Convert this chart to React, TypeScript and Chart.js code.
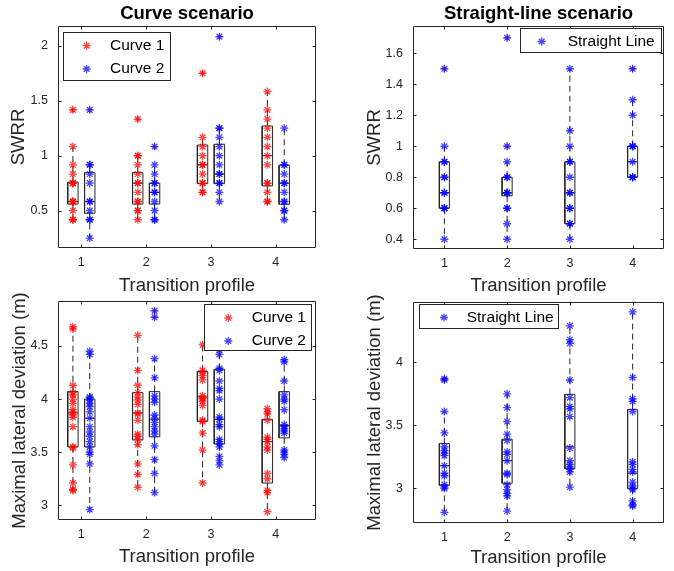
import React, { useEffect, useRef } from 'react';
import { Chart, registerables } from 'chart.js';

Chart.register(...registerables);

// ---------------- DATA ----------------
const CATEGORIES = [1, 2, 3, 4];
const X_LABEL = 'Transition profile';

const SWRR_TICKS = [0.5, 1, 1.5, 2];
const SWRR_STRAIGHT_TICKS = [0.4, 0.6, 0.8, 1, 1.2, 1.4, 1.6];
const DEV_TICKS = [3, 3.5, 4, 4.5];
const DEV_STRAIGHT_TICKS = [3, 3.5, 4];

// SWRR – curve scenario (values per transition profile)
const SWRR_CURVE1 = [
  [1.417, 1.083, 0.917, 0.833, 0.75, 0.75, 0.75, 0.583, 0.583, 0.583, 0.5, 0.417, 0.417],
  [1.333, 1.0, 1.0, 0.917, 0.833, 0.75, 0.75, 0.667, 0.583, 0.583, 0.5, 0.5, 0.417],
  [1.75, 1.167, 1.083, 1.0, 0.917, 0.917, 0.833, 0.75, 0.75, 0.667, 0.667],
  [1.583, 1.417, 1.333, 1.25, 1.167, 1.083, 1.0, 0.917, 0.75, 0.75, 0.667, 0.583, 0.583],
];
const SWRR_CURVE2 = [
  [1.417, 0.917, 0.917, 0.833, 0.75, 0.583, 0.583, 0.5, 0.417, 0.417, 0.25],
  [1.083, 0.917, 0.833, 0.75, 0.75, 0.667, 0.667, 0.583, 0.5, 0.417, 0.417],
  [2.083, 1.25, 1.25, 1.167, 1.083, 1.0, 0.917, 0.833, 0.833, 0.75, 0.75, 0.667, 0.583],
  [1.25, 0.917, 0.917, 0.833, 0.75, 0.75, 0.667, 0.583, 0.583, 0.5, 0.5, 0.417],
];
// box stats: [lower whisker, q1, median, q3, upper whisker]
const SWRR_CURVE1_BOX = [
  [0.417, 0.56, 0.583, 0.76, 1.083],
  [0.417, 0.56, 0.75, 0.845, 1.0],
  [0.667, 0.745, 0.917, 1.097, 1.167],
  [0.583, 0.725, 1.0, 1.27, 1.583],
];
const SWRR_CURVE2_BOX = [
  [0.25, 0.476, 0.583, 0.845, 0.917],
  [0.417, 0.56, 0.667, 0.75, 0.917],
  [0.583, 0.745, 0.833, 1.104, 1.25],
  [0.417, 0.558, 0.75, 0.913, 1.25],
];
const SWRR_CURVE1_OUT = [[1.417], [1.333], [1.75], []];
const SWRR_CURVE2_OUT = [[1.417], [1.083], [2.083], []];

// SWRR – straight-line scenario
const SWRR_STRAIGHT = [
  [1.5, 1.0, 0.9, 0.9, 0.8, 0.8, 0.7, 0.7, 0.6, 0.6, 0.6, 0.4],
  [1.7, 1.0, 0.9, 0.8, 0.8, 0.7, 0.7, 0.7, 0.6, 0.6, 0.5, 0.4],
  [1.5, 1.1, 1.0, 0.9, 0.9, 0.8, 0.7, 0.7, 0.6, 0.6, 0.5, 0.5, 0.4],
  [1.5, 1.3, 1.2, 1.0, 1.0, 1.0, 0.9, 0.8, 0.8, 0.8],
];
const SWRR_STRAIGHT_BOX = [
  [0.4, 0.6, 0.7, 0.9, 1.0],
  [0.4, 0.68, 0.7, 0.8, 0.9],
  [0.4, 0.5, 0.7, 0.9, 1.5],
  [0.8, 0.8, 0.9, 1.0, 1.3],
];
const SWRR_STRAIGHT_OUT = [[1.5], [1.7, 1.0], [], [1.5]];

// Maximal lateral deviation – curve scenario
const DEV_CURVE1 = [
  [4.68, 4.66, 4.13, 4.06, 4.04, 4.0, 3.96, 3.9, 3.88, 3.85, 3.83, 3.74, 3.55, 3.54, 3.38, 3.21, 3.15, 3.14],
  [4.6, 4.27, 4.13, 4.06, 4.02, 3.99, 3.95, 3.87, 3.86, 3.8, 3.67, 3.65, 3.62, 3.57, 3.39, 3.29, 3.17],
  [4.51, 4.27, 4.25, 4.22, 4.18, 4.03, 4.01, 4.0, 3.98, 3.94, 3.8, 3.79, 3.68, 3.52, 3.21],
  [3.91, 3.88, 3.86, 3.8, 3.64, 3.62, 3.6, 3.55, 3.52, 3.3, 3.25, 3.14, 3.12, 2.94],
];
const DEV_CURVE2 = [
  [4.45, 4.42, 4.02, 4.01, 3.99, 3.96, 3.93, 3.88, 3.82, 3.74, 3.69, 3.65, 3.6, 3.55, 3.5, 3.48, 3.39, 2.96],
  [4.83, 4.77, 4.38, 4.2, 4.03, 4.0, 3.97, 3.85, 3.82, 3.78, 3.74, 3.7, 3.67, 3.56, 3.43, 3.3, 3.12],
  [4.46, 4.42, 4.29, 4.27, 4.17, 4.1, 4.08, 4.0, 3.83, 3.81, 3.76, 3.74, 3.62, 3.6, 3.58, 3.55, 3.46, 3.42, 3.38],
  [4.37, 4.35, 4.17, 4.04, 4.0, 3.98, 3.9, 3.76, 3.74, 3.72, 3.7, 3.68, 3.52, 3.5, 3.48, 3.45],
];
const DEV_CURVE1_BOX = [
  [3.14, 3.55, 3.87, 4.07, 4.68],
  [3.17, 3.615, 3.87, 4.06, 4.6],
  [3.21, 3.79, 4.02, 4.26, 4.51],
  [2.94, 3.21, 3.6, 3.81, 3.91],
];
const DEV_CURVE2_BOX = [
  [2.96, 3.55, 3.82, 4.0, 4.45],
  [3.12, 3.645, 3.81, 4.07, 4.38],
  [3.38, 3.577, 3.81, 4.28, 4.46],
  [3.45, 3.635, 3.75, 4.07, 4.37],
];
const DEV_CURVE1_OUT = [[], [], [], []];
const DEV_CURVE2_OUT = [[], [4.83, 4.77], [], []];

// Maximal lateral deviation – straight-line scenario
const DEV_STRAIGHT = [
  [3.87, 3.86, 3.61, 3.44, 3.33, 3.3, 3.28, 3.26, 3.18, 3.12, 3.1, 3.03, 3.01, 3.0, 2.81],
  [3.75, 3.64, 3.53, 3.43, 3.38, 3.29, 3.27, 3.22, 3.12, 3.11, 3.03, 2.99, 2.96, 2.94, 2.82],
  [4.29, 4.18, 4.15, 3.86, 3.72, 3.65, 3.63, 3.57, 3.32, 3.22, 3.19, 3.17, 3.15, 3.13, 3.01],
  [4.4, 3.88, 3.71, 3.69, 3.61, 3.21, 3.19, 3.15, 3.13, 3.05, 3.02, 3.0, 2.99, 2.9, 2.87, 2.86],
];
const DEV_STRAIGHT_BOX = [
  [2.81, 3.024, 3.18, 3.355, 3.61],
  [2.82, 3.04, 3.22, 3.39, 3.75],
  [3.01, 3.156, 3.33, 3.746, 4.29],
  [2.86, 3.0, 3.12, 3.625, 4.4],
];
const DEV_STRAIGHT_OUT = [[3.87], [], [], []];

// ---------------- STYLE ----------------
const CANVAS_W = 674;
const CANVAS_H = 571;
const FONT = "'Liberation Sans', Arial, Helvetica, sans-serif";
const AXIS_COLOR = '#262626';
const RED = 'rgba(255, 0, 0, 0.72)';
const BLUE = 'rgba(0, 0, 255, 0.72)';
const OUTLIER = 'rgba(255, 0, 0, 0.85)';
const TICK_SIZE = 12.5;
const LABEL_SIZE = 18.5;
const LEGEND_SIZE = 15.5;
const TITLE_H = 26;
const X_AXIS_H = 48;
const BOX_HALF = 0.08;
const TICK_LEN = 3;
const MARKER_R = 4;
const MARKER_W = 1.3;

type Series = {
  label: string;
  color: string;
  offset: number;
  values: number[][];
  box: number[][];
  outliers: number[][];
};

type Spec = {
  title?: string;
  yLabel: string;
  yMin: number;
  yMax: number;
  yTicks: number[];
  xMin: number;
  xMax: number;
  area: { l: number; t: number; r: number; b: number };
  leftEdge: number;
  yTitleX: number;
  xTitleY: number;
  legend: { x: number; y: number; w: number; h: number; markerX: number; textX: number; rows: number[] };
  series: Series[];
};

const SPECS: Spec[] = [
  {
    title: 'Curve scenario',
    yLabel: 'SWRR',
    yMin: 0.16, yMax: 2.18, yTicks: SWRR_TICKS,
    xMin: 0.64, xMax: 4.62,
    area: { l: 58, t: 26, r: 316, b: 248 },
    leftEdge: 0, yTitleX: 18.5, xTitleY: 285.7,
    legend: { x: 63, y: 32, w: 108, h: 49, markerX: 86.7, textX: 110, rows: [45.7, 69] },
    series: [
      { label: 'Curve 1', color: RED, offset: -0.13, values: SWRR_CURVE1, box: SWRR_CURVE1_BOX, outliers: SWRR_CURVE1_OUT },
      { label: 'Curve 2', color: BLUE, offset: 0.13, values: SWRR_CURVE2, box: SWRR_CURVE2_BOX, outliers: SWRR_CURVE2_OUT },
    ],
  },
  {
    title: 'Straight-line scenario',
    yLabel: 'SWRR',
    yMin: 0.337, yMax: 1.776, yTicks: SWRR_STRAIGHT_TICKS,
    xMin: 0.5, xMax: 4.5,
    area: { l: 413, t: 26, r: 664, b: 249 },
    leftEdge: 340, yTitleX: 375, xTitleY: 285.7,
    legend: { x: 520, y: 28, w: 142, h: 25, markerX: 541.7, textX: 567.7, rows: [41.5] },
    series: [
      { label: 'Straight Line', color: BLUE, offset: 0, values: SWRR_STRAIGHT, box: SWRR_STRAIGHT_BOX, outliers: SWRR_STRAIGHT_OUT },
    ],
  },
  {
    yLabel: 'Maximal lateral deviation (m)',
    yMin: 2.862, yMax: 4.923, yTicks: DEV_TICKS,
    xMin: 0.64, xMax: 4.62,
    area: { l: 58, t: 301, r: 316, b: 520 },
    leftEdge: 0, yTitleX: 20, xTitleY: 556.7,
    legend: { x: 204, y: 304, w: 108, h: 47, markerX: 228.3, textX: 251.7, rows: [318, 341] },
    series: [
      { label: 'Curve 1', color: RED, offset: -0.13, values: DEV_CURVE1, box: DEV_CURVE1_BOX, outliers: DEV_CURVE1_OUT },
      { label: 'Curve 2', color: BLUE, offset: 0.13, values: DEV_CURVE2, box: DEV_CURVE2_BOX, outliers: DEV_CURVE2_OUT },
    ],
  },
  {
    yLabel: 'Maximal lateral deviation (m)',
    yMin: 2.725, yMax: 4.479, yTicks: DEV_STRAIGHT_TICKS,
    xMin: 0.5, xMax: 4.5,
    area: { l: 413, t: 302, r: 664, b: 523 },
    leftEdge: 340, yTitleX: 375, xTitleY: 558.3,
    legend: { x: 419, y: 304, w: 140, h: 25, markerX: 444, textX: 466.7, rows: [317.5] },
    series: [
      { label: 'Straight Line', color: BLUE, offset: 0, values: DEV_STRAIGHT, box: DEV_STRAIGHT_BOX, outliers: DEV_STRAIGHT_OUT },
    ],
  },
];

function fmt(v: number) {
  return String(Math.round(v * 1000) / 1000);
}

function drawAsterisk(ctx: CanvasRenderingContext2D, x: number, y: number, r: number, color: string) {
  ctx.save();
  ctx.strokeStyle = color;
  ctx.lineWidth = MARKER_W;
  ctx.beginPath();
  ctx.moveTo(x - r, y); ctx.lineTo(x + r, y);
  ctx.moveTo(x, y - r); ctx.lineTo(x, y + r);
  const d = r * Math.SQRT1_2;
  ctx.moveTo(x - d, y - d); ctx.lineTo(x + d, y + d);
  ctx.moveTo(x - d, y + d); ctx.lineTo(x + d, y - d);
  ctx.stroke();
  ctx.restore();
}

function makeConfig(spec: Spec): any {
  const datasets: any[] = [];
  const line = (data: any[], dash?: number[]) => ({
    type: 'scatter',
    showLine: true,
    data,
    borderColor: AXIS_COLOR,
    backgroundColor: AXIS_COLOR,
    borderWidth: 1,
    borderDash: dash || [],
    pointRadius: 0,
    pointHoverRadius: 0,
    fill: false,
    tension: 0,
  });

  for (const s of spec.series) {
    datasets.push({
      type: 'scatter',
      label: s.label,
      data: s.values.flatMap((vals, i) => vals.map((v) => ({ x: CATEGORIES[i] + s.offset, y: v }))),
      pointStyle: 'star',
      pointRadius: MARKER_R,
      pointHoverRadius: MARKER_R,
      borderColor: s.color,
      backgroundColor: s.color,
      pointBorderWidth: MARKER_W,
    });
  }
  for (const s of spec.series) {
    datasets.push({
      type: 'scatter',
      data: s.outliers.flatMap((vals, i) => vals.map((v) => ({ x: CATEGORIES[i] + s.offset, y: v }))),
      pointStyle: 'cross',
      pointRadius: 3,
      pointHoverRadius: 3,
      borderColor: OUTLIER,
      backgroundColor: OUTLIER,
      pointBorderWidth: 1,
    });
  }
  for (const s of spec.series) {
    s.box.forEach(([lo, q1, med, q3, hi], i) => {
      const x = CATEGORIES[i] + s.offset;
      datasets.push(line([
        { x: x - BOX_HALF, y: q1 }, { x: x + BOX_HALF, y: q1 }, { x: x + BOX_HALF, y: q3 },
        { x: x - BOX_HALF, y: q3 }, { x: x - BOX_HALF, y: q1 },
      ]));
      datasets.push(line([{ x: x - BOX_HALF, y: med }, { x: x + BOX_HALF, y: med }]));
      if (hi > q3) datasets.push(line([{ x, y: q3 }, { x, y: hi }], [6, 4]));
      if (lo < q1) datasets.push(line([{ x, y: q1 }, { x, y: lo }], [6, 4]));
    });
  }

  const { area, leftEdge } = spec;
  const yAxisW = area.l - leftEdge;
  const padTop = spec.title ? area.t - TITLE_H : area.t;
  const padBottom = CANVAS_H - area.b - X_AXIS_H;
  const xTitlePad = area.b + X_AXIS_H - LABEL_SIZE / 2 - spec.xTitleY;
  const yTitlePad = spec.yTitleX - leftEdge - LABEL_SIZE / 2;

  const decor = {
    id: 'matlabDecor',
    afterDraw(chart: any) {
      const ctx: CanvasRenderingContext2D = chart.ctx;
      const a = chart.chartArea;
      const xs = chart.scales.x;
      const ys = chart.scales.y;
      const L = Math.round(a.left) + 0.5;
      const R = Math.round(a.right) - 0.5;
      const T = Math.round(a.top) + 0.5;
      const B = Math.round(a.bottom) - 0.5;
      ctx.save();
      ctx.strokeStyle = AXIS_COLOR;
      ctx.lineWidth = 1;
      ctx.beginPath();
      ctx.rect(L, T, R - L, B - T);
      for (const t of xs.ticks) {
        const px = Math.round(xs.getPixelForValue(t.value)) + 0.5;
        ctx.moveTo(px, B); ctx.lineTo(px, B - TICK_LEN);
        ctx.moveTo(px, T); ctx.lineTo(px, T + TICK_LEN);
      }
      for (const t of ys.ticks) {
        const py = Math.round(ys.getPixelForValue(t.value)) + 0.5;
        ctx.moveTo(L, py); ctx.lineTo(L + TICK_LEN, py);
        ctx.moveTo(R, py); ctx.lineTo(R - TICK_LEN, py);
      }
      ctx.stroke();

      // legend
      const lg = spec.legend;
      ctx.fillStyle = '#ffffff';
      ctx.fillRect(lg.x, lg.y, lg.w, lg.h);
      ctx.strokeStyle = AXIS_COLOR;
      ctx.strokeRect(lg.x + 0.5, lg.y + 0.5, lg.w - 1, lg.h - 1);
      ctx.font = `${LEGEND_SIZE}px ${FONT}`;
      ctx.textBaseline = 'middle';
      ctx.textAlign = 'left';
      spec.series.forEach((s, i) => {
        const y = lg.rows[i];
        drawAsterisk(ctx, lg.markerX, y, MARKER_R, s.color);
        ctx.fillStyle = '#000000';
        ctx.fillText(s.label, lg.textX, y);
      });
      ctx.restore();
    },
  };

  return {
    type: 'scatter',
    data: { datasets },
    options: {
      animation: false,
      responsive: false,
      devicePixelRatio: 1,
      events: [],
      layout: {
        padding: { left: leftEdge, right: CANVAS_W - area.r, top: padTop, bottom: padBottom },
      },
      plugins: {
        legend: { display: false },
        tooltip: { enabled: false },
        title: {
          display: !!spec.title,
          text: spec.title || '',
          fullSize: false,
          color: '#000000',
          font: { family: FONT, size: LABEL_SIZE, weight: 'bold', lineHeight: 1.2 },
          padding: { top: 2.4, bottom: 1.4 },
        },
      },
      scales: {
        x: {
          type: 'linear',
          min: spec.xMin,
          max: spec.xMax,
          afterBuildTicks: (sc: any) => { sc.ticks = CATEGORIES.map((v) => ({ value: v })); },
          afterFit: (sc: any) => { sc.height = X_AXIS_H; },
          ticks: {
            color: AXIS_COLOR,
            font: { family: FONT, size: TICK_SIZE },
            padding: 7,
            maxRotation: 0,
            autoSkip: false,
            callback: (v: number) => fmt(v),
          },
          grid: { display: false, drawTicks: false },
          border: { display: false },
          title: {
            display: true,
            text: X_LABEL,
            color: AXIS_COLOR,
            font: { family: FONT, size: LABEL_SIZE, lineHeight: 1 },
            padding: { top: 0, bottom: xTitlePad },
          },
        },
        y: {
          type: 'linear',
          min: spec.yMin,
          max: spec.yMax,
          afterBuildTicks: (sc: any) => { sc.ticks = spec.yTicks.map((v) => ({ value: v })); },
          afterFit: (sc: any) => { sc.width = yAxisW; },
          ticks: {
            color: AXIS_COLOR,
            font: { family: FONT, size: TICK_SIZE },
            padding: 10,
            autoSkip: false,
            callback: (v: number) => fmt(v),
          },
          grid: { display: false, drawTicks: false },
          border: { display: false },
          title: {
            display: true,
            text: spec.yLabel,
            color: AXIS_COLOR,
            font: { family: FONT, size: LABEL_SIZE, lineHeight: 1 },
            padding: { top: yTitlePad, bottom: 0 },
          },
        },
      },
    },
    plugins: [decor],
  };
}

function Panel({ spec }: { spec: Spec }) {
  const ref = useRef<HTMLCanvasElement>(null);
  useEffect(() => {
    const chart = new Chart(ref.current as HTMLCanvasElement, makeConfig(spec));
    return () => chart.destroy();
  }, [spec]);
  return (
    <canvas
      ref={ref}
      width={CANVAS_W}
      height={CANVAS_H}
      style={{ position: 'absolute', left: 0, top: 0, width: CANVAS_W, height: CANVAS_H }}
    />
  );
}

export default function App() {
  return (
    <div style={{ position: 'absolute', left: 0, top: 0, width: CANVAS_W, height: CANVAS_H, background: '#ffffff' }}>
      {SPECS.map((s, i) => (
        <Panel key={i} spec={s} />
      ))}
    </div>
  );
}
